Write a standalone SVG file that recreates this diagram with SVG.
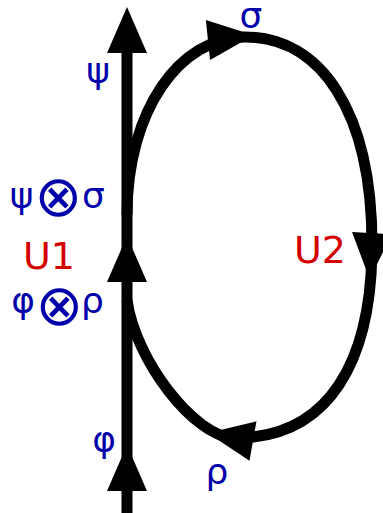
<svg xmlns="http://www.w3.org/2000/svg" xmlns:xlink="http://www.w3.org/1999/xlink" width="383" height="513" viewBox="0 0 383 513">
<style>
.line{fill:none;stroke:#000;stroke-width:11}
.head{fill:#000}
.lb{font-family:"DejaVu Sans",sans-serif;font-size:36px;fill:#0000aa;text-anchor:middle}
.ot{font-size:57px}
.lr{font-family:"DejaVu Sans",sans-serif;font-size:38px;fill:#d40000;text-anchor:middle}
</style>
<defs>
<path id="ah" d="M0,0 L-46,-20 L-46,20 Z"/>
</defs>
<g id="connectors">
<line class="line" x1="127" y1="30" x2="127" y2="513"/>
<path class="line" d="M127,215 C127,110 180,37 245,37 C320,37 372,110 372,245 C372,360 330,438 235,438 C195,438 135,360 127,300"/>
<use xlink:href="#ah" class="head" transform="translate(127,7) rotate(-90)"/>
<use xlink:href="#ah" class="head" transform="translate(127,236) rotate(-90)"/>
<use xlink:href="#ah" class="head" transform="translate(127,445) rotate(-90)"/>
<use xlink:href="#ah" class="head" transform="translate(253.7,35.2) rotate(-6)"/>
<use xlink:href="#ah" class="head" transform="translate(369.6,279) rotate(93)"/>
<use xlink:href="#ah" class="head" transform="translate(207.7,433) rotate(190)"/>
</g>
<g id="psi"><text class="lb" x="98" y="83">ψ</text></g>
<g id="sigma"><text class="lb" x="251" y="28">σ</text></g>
<g id="psi-sigma"><text class="lb" y="208"><tspan x="21.5">ψ</tspan><tspan class="ot" x="58.5" y="216">⊗</tspan><tspan x="93.5" y="208">σ</tspan></text></g>
<g id="U1"><text class="lr" x="49" y="269">U1</text></g>
<g id="phi-rho"><text class="lb" y="313"><tspan x="23">φ</tspan><tspan class="ot" x="59.5" y="324.5">⊗</tspan><tspan x="92.5" y="313">ρ</tspan></text></g>
<g id="U2"><text class="lr" x="320" y="263">U2</text></g>
<g id="phi"><text class="lb" x="104" y="452">φ</text></g>
<g id="rho"><text class="lb" x="217" y="484">ρ</text></g>
</svg>
